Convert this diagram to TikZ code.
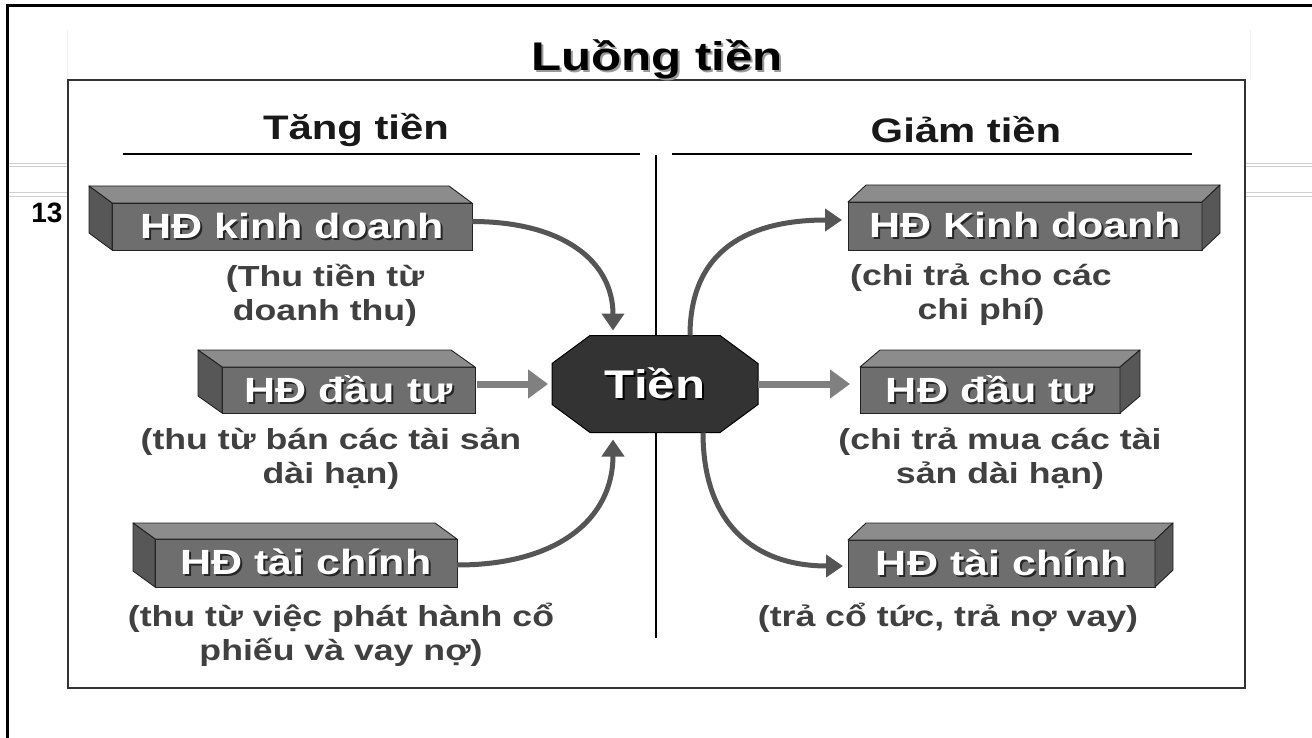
\documentclass[tikz,border=0pt]{standalone}
\usepackage{fontspec}
\setmainfont{Liberation Sans}[FakeStretch=1.23]
\newfontfamily\numfont{Liberation Sans}
\usetikzlibrary{arrows.meta,calc}

\definecolor{frontgray}{HTML}{6E6E6E}
\definecolor{topgray}{HTML}{8C8C8C}
\definecolor{sidegray}{HTML}{575757}
\definecolor{edgegray}{HTML}{222222}
\definecolor{arrowgray}{HTML}{555555}
\definecolor{lightarrow}{HTML}{808080}
\definecolor{notegray}{HTML}{404040}
\definecolor{coregray}{HTML}{333333}
\definecolor{decogray}{HTML}{CFCFCF}
\definecolor{framegray}{HTML}{333333}

% text with a dropped shadow: #1 text, #2 shadow colour, #3 offset
\newcommand\shadowtext[3]{\leavevmode\rlap{\kern#3\raisebox{-#3}{\textcolor{#2}{#1}}}#1}

% 3D bar: #1 name, #2 centre, #3 width, #4 height, #5 depth shift, #6 side (west/east), #7 label
\newcommand\cashbox[7]{%
  \node[boxfront, minimum width=#3, minimum height=#4] (#1) at (#2) {\shadowtext{#7}{black!85}{2pt}};
  \filldraw[boxtop] (#1.north west) -- ([shift={#5}]#1.north west) -- ([shift={#5}]#1.north east) -- (#1.north east) -- cycle;
  \filldraw[boxside] (#1.north #6) -- ([shift={#5}]#1.north #6) -- ([shift={#5}]#1.south #6) -- (#1.south #6) -- cycle;
}

\tikzset{
  boxfront/.style={draw=edgegray, line width=0.9pt, fill=frontgray, inner sep=0pt, outer sep=0pt,
    text=white, font=\bfseries\fontsize{35}{40}\selectfont},
  boxtop/.style={draw=edgegray, line width=0.9pt, fill=topgray, line join=round},
  boxside/.style={draw=edgegray, line width=0.9pt, fill=sidegray, line join=round},
  note/.style={text=notegray, align=center, font=\bfseries\fontsize{29}{34}\selectfont},
  header/.style={text=black!90, font=\bfseries\fontsize{34}{40}\selectfont},
  curvearr/.style={draw=arrowgray, line width=5pt, -{Triangle[width=22pt,length=17pt]}},
  strarr/.style={draw=lightarrow, line width=7pt, -{Triangle[width=28pt,length=20pt]}},
  rule/.style={draw=black, line width=2.5pt},
}

\begin{document}
\begin{tikzpicture}[x=1pt,y=-1pt]
\useasboundingbox (0,0) rectangle (1312,738);
\fill[white] (0,0) rectangle (1312,738);

% slide frame and ornaments
\draw[line width=3pt, black] (7,738) -- (7,6) -- (1312,6);
\foreach \yy in {163,166,192,196}{
  \draw[decogray, line width=0.8pt] (8.5,\yy) -- (68,\yy);
  \draw[decogray, line width=0.8pt] (1245,\yy) -- (1312,\yy);
}
\draw[black!6, line width=0.8pt] (67,30) -- (67,80);
\draw[black!6, line width=0.8pt] (1250,30) -- (1250,80);
\node[font=\numfont\bfseries\fontsize{28}{30}\selectfont] (slideno) at (47,213) {13};

% panel
\draw[framegray, line width=1.6pt] (68,80) rectangle (1245,688);

% titles
\node[font=\bfseries\fontsize{40}{46}\selectfont] (title) at (657,60) {\shadowtext{Luồng tiền}{black!40}{2pt}};
\node[header] (inc) at (356,130) {Tăng tiền};
\node[header] (dec) at (966,130) {Giảm tiền};
\draw[rule] (123,154) -- (640,154);
\draw[rule] (672,154) -- (1192,154);
\draw[black, line width=2pt] (656,155) -- (656,638);

% inflow bars
\cashbox{lk}{292,226.5}{360pt}{47pt}{(-23,-17)}{west}{HĐ kinh doanh}
\cashbox{ld}{348.5,390}{253pt}{46pt}{(-24,-17)}{west}{HĐ đầu tư}
\cashbox{lt}{306,563}{302pt}{48pt}{(-22,-16)}{west}{HĐ tài chính}

% outflow bars
\cashbox{rk}{1025,226}{354pt}{48pt}{(18,-17)}{east}{HĐ Kinh doanh}
\cashbox{rd}{990,390}{260pt}{46pt}{(20,-17)}{east}{HĐ đầu tư}
\cashbox{rt}{1001.5,563.5}{307pt}{47pt}{(18,-17)}{east}{HĐ tài chính}

% explanations
\node[note] (nlk) at (325,295) {(Thu tiền từ\\doanh thu)};
\node[note] (nld) at (331,459) {(thu từ bán các tài sản\\dài hạn)};
\node[note] (nlt) at (341,635) {(thu từ việc phát hành cổ\\phiếu và vay nợ)};
\node[note] (nrk) at (981,295) {(chi trả cho các\\chi phí)};
\node[note] (nrd) at (1000,459) {(chi trả mua các tài\\sản dài hạn)};
\node[note] (nrt) at (948,618) {(trả cổ tức, trả nợ vay)};

% cash hub
\node[minimum width=206pt, minimum height=97pt, inner sep=0pt, outer sep=0pt] (tien) at (655,384) {};
\filldraw[fill=coregray, draw=black, line width=1pt]
  ($(tien.north west)+(38,0)$) -- ($(tien.north east)+(-38,0)$) -- ($(tien.north east)+(0,28)$)
  -- ($(tien.south east)+(0,-28)$) -- ($(tien.south east)+(-38,0)$) -- ($(tien.south west)+(38,0)$)
  -- ($(tien.south west)+(0,-28)$) -- ($(tien.north west)+(0,28)$) -- cycle;
\node[text=white, font=\bfseries\fontsize{40}{46}\selectfont] (tientext) at (tien.center) {\shadowtext{Tiền}{black}{2pt}};

% flows into cash
\coordinate (inA) at ([xshift=-42pt,yshift=5pt]tien.north);
\coordinate (inC) at ([xshift=-42pt,yshift=-7pt]tien.south);
\coordinate (inB) at ([xshift=-4pt]tien.west);
\coordinate (ldout) at ([xshift=2pt]ld.east);
\draw[curvearr] ([yshift=5pt]lk.east) .. controls +(90,0) and +(0,-70) .. (inA);
\draw[strarr] (ldout |- tien.west) -- (inB);
\draw[curvearr] ([yshift=-2pt]lt.east) .. controls +(100,0) and +(0,80) .. (inC);

% flows out of cash
\coordinate (outA) at ([xshift=-6pt,yshift=6pt]rk.west);
\coordinate (outC) at ([xshift=-5pt,yshift=-2.5pt]rt.west);
\coordinate (rdin) at ([xshift=-10pt]rd.west);
\draw[curvearr] ([xshift=35pt]tien.north) .. controls +(0,-95) and +(-80,0) .. (outA);
\draw[strarr] (tien.east) -- (rdin |- tien.east);
\draw[curvearr] ([xshift=48pt]tien.south) .. controls +(0,90) and +(-90,0) .. (outC);
\end{tikzpicture}
\end{document}
